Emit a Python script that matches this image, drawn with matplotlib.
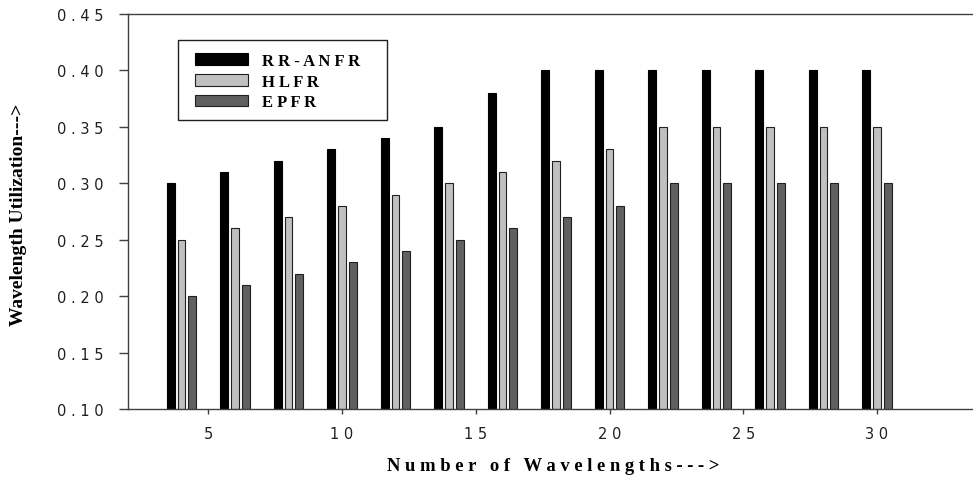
import numpy as np
import matplotlib.pyplot as plt
from matplotlib.patches import Patch, Rectangle

# number of wavelengths (group positions)
wavelengths = [4, 6, 8, 10, 12, 14, 16, 18, 20, 22, 24, 26, 28, 30]
# RR-ANFR
rr_anfr = [0.30, 0.31, 0.32, 0.33, 0.34, 0.35, 0.38, 0.40, 0.40, 0.40, 0.40, 0.40, 0.40, 0.40]
# HLFR
hlfr = [0.25, 0.26, 0.27, 0.28, 0.29, 0.30, 0.31, 0.32, 0.33, 0.35, 0.35, 0.35, 0.35, 0.35]
# EPFR
epfr = [0.20, 0.21, 0.22, 0.23, 0.24, 0.25, 0.26, 0.27, 0.28, 0.30, 0.30, 0.30, 0.30, 0.30]

names = ['R R - A N F R', 'H L F R', 'E P F R']
x_ticks = [5, 10, 15, 20, 25, 30]
y_ticks = [0.10, 0.15, 0.20, 0.25, 0.30, 0.35, 0.40, 0.45]


def spaced(s):
    return ' '.join(s)


fig = plt.figure(figsize=(9.73, 4.81), dpi=100)
ax = fig.add_axes([128 / 973, 71 / 481, 856 / 973, 395 / 481])


def axpos(px, py):
    # pixel position in the figure -> axes fraction
    return (px - 128) / 856, 1 - (py - 15) / 395


x = np.array(wavelengths, dtype=float)
w = 0.29
off = 0.40
styles = [('#000000', '#000000'), ('#c0c0c0', '#202020'), ('#606060', '#202020')]
for i, vals in enumerate([rr_anfr, hlfr, epfr]):
    fc, ec = styles[i]
    ax.bar(x + (i - 1) * off, np.array(vals) - 0.10, width=w, bottom=0.10,
           color=fc, edgecolor=ec, linewidth=0.8, zorder=2)

ax.set_xlim(2, 34)
ax.set_ylim(0.10, 0.45)
ax.set_xticks(x_ticks)
ax.set_xticklabels([spaced(str(t)) for t in x_ticks])
ax.set_yticks(y_ticks)
ax.set_yticklabels([spaced('%.2f' % t) for t in y_ticks])
for lab in ax.get_xticklabels() + ax.get_yticklabels():
    lab.set_family('DejaVu Sans')
    lab.set_fontsize(10.5)
    lab.set_color('#202020')
ax.tick_params(axis='both', direction='out', width=1, color='#404040')
ax.tick_params(axis='x', length=3.6, pad=9)
ax.tick_params(axis='y', length=6.5, pad=11)
for s in ['left', 'bottom', 'top']:
    ax.spines[s].set_color('#404040')
    ax.spines[s].set_linewidth(1)
ax.spines['right'].set_visible(False)

fig.text(553 / 973, 1 - 467 / 481, 'N u m b e r   o f   W a v e l e n g t h s - - - >',
         family='Liberation Serif', weight='bold', fontsize=13.4, ha='center', va='center')
fig.text(19 / 973, 1 - 215 / 481, 'Wavelength Utilization--->',
         family='Liberation Serif', weight='bold', fontsize=14, rotation=90,
         ha='center', va='center')

# legend box drawn by hand
x0, y1 = axpos(178, 41)
x1, y0 = axpos(387, 121)
ax.add_patch(Rectangle((x0, y0), x1 - x0, y1 - y0, transform=ax.transAxes,
                       facecolor='white', edgecolor='#202020', linewidth=1, zorder=4))
handles = [Patch(facecolor=styles[i][0], edgecolor=styles[i][1], linewidth=0.8) for i in range(3)]
leg = ax.legend(handles, names, loc='upper left', bbox_to_anchor=axpos(195, 54),
                prop={'family': 'Liberation Serif', 'weight': 'bold', 'size': 12},
                handlelength=3.2, handleheight=0.72, handletextpad=0.85,
                labelspacing=0.28, borderpad=0, borderaxespad=0, frameon=False)
leg.set_zorder(5)

plt.savefig('out.png', dpi=100)
